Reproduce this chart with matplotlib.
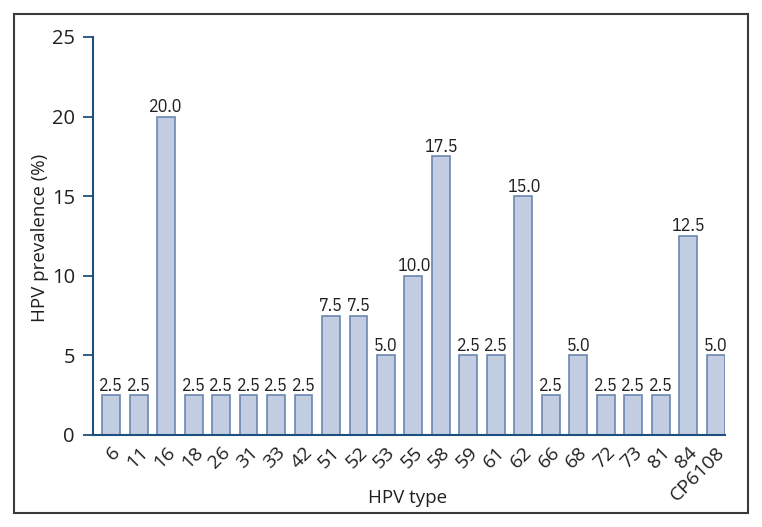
import matplotlib
matplotlib.use("Agg")
import matplotlib.pyplot as plt
from matplotlib.patches import Rectangle

plt.rcParams['font.family'] = ['Open Sans', 'DejaVu Sans']

hpv_types = ['6', '11', '16', '18', '26', '31', '33', '42', '51', '52', '53', '55',
             '58', '59', '61', '62', '66', '68', '72', '73', '81', '84', 'CP6108']
prevalence = [2.5, 2.5, 20.0, 2.5, 2.5, 2.5, 2.5, 2.5, 7.5, 7.5, 5.0, 10.0,
              17.5, 5.0, 5.0, 15.0, 2.5, 5.0, 2.5, 2.5, 2.5, 12.5, 5.0]
bar_labels = ['2.5', '2.5', '20.0', '2.5', '2.5', '2.5', '2.5', '2.5', '7.5', '7.5',
              '5.0', '10.0', '17.5', '2.5', '2.5', '15.0', '2.5', '5.0', '2.5', '2.5',
              '2.5', '12.5', '5.0']
y_ticks = [0, 5, 10, 15, 20, 25]

spine_col = '#1f4f7e'
text_col = '#231f20'

fig = plt.figure(figsize=(7.62, 5.27), dpi=100)
fig.patches.append(Rectangle((13.5/762, 1-512.5/527), (747.5-13.5)/762, (512.5-13.5)/527,
                             transform=fig.transFigure, fill=False,
                             edgecolor='#3a3a3a', linewidth=1.5))
ax = fig.add_axes([93/762, 1-435/527, (725-93)/762, (435-37)/527])

x = list(range(len(hpv_types)))
bars = ax.bar(x, prevalence, width=0.65, color='#c3cde1', edgecolor='#6c87b2', linewidth=1.2)
for rect, lab in zip(bars, bar_labels):
    ax.annotate(lab, (rect.get_x() + rect.get_width()/2, rect.get_height()),
                xytext=(0, 0.5), textcoords='offset points', ha='center', va='bottom',
                fontsize=13, color=text_col,
                family=['IBM Plex Sans Condensed', 'DejaVu Sans'])

ax.set_xlim(-0.66, len(hpv_types) - 1 + 0.34)
ax.set_ylim(0, 25)
ax.set_yticks(y_ticks)
ax.set_yticklabels([str(t) for t in y_ticks], fontsize=14.5, color=text_col)
ax.set_xticks(x)
ax.set_xticklabels(hpv_types, rotation=45, ha='right', va='top', rotation_mode='anchor',
                   fontsize=14, color=text_col)
ax.tick_params(axis='x', length=0, pad=6)
ax.tick_params(axis='y', length=7, width=1.3, color=spine_col, pad=6)

for s in ['top', 'right']:
    ax.spines[s].set_visible(False)
for s in ['left', 'bottom']:
    ax.spines[s].set_color(spine_col)
    ax.spines[s].set_linewidth(1.5)

fig.text(40/762, 1-238/527, 'HPV prevalence (%)', rotation=90, fontsize=13.5,
         color=text_col, ha='center', va='center')
fig.text(408/762, 1-498/527, 'HPV type', fontsize=13.5, color=text_col,
         ha='center', va='center')

fig.savefig('out.png', dpi=100)
